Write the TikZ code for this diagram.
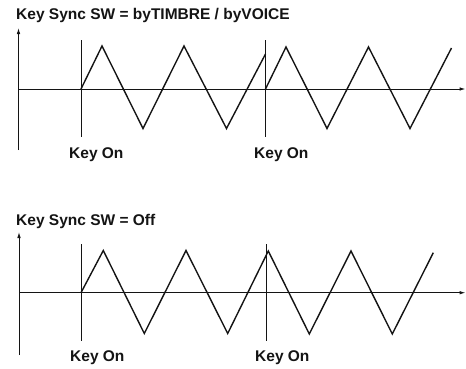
\documentclass[tikz,border=0pt]{standalone}
\usepackage{fontspec}
\setmainfont{Liberation Sans}
\usepackage{xcolor}
\definecolor{plotInk}{RGB}{20, 20, 20}
\usetikzlibrary{arrows.meta}

\begin{document}
\begin{tikzpicture}[
    x=1pt, y=-1pt,
    titleNode/.style={
        anchor=base west, inner sep=0pt, text=plotInk,
        font=\bfseries\fontsize{15.5}{18}\selectfont
    },
    keyLabel/.style={
        anchor=base west, inner sep=0pt, text=plotInk,
        font=\bfseries\fontsize{15.5}{18}\selectfont
    },
    axisArrow/.style={
        -{Latex[length=6pt, width=3.6pt]}, line width=1pt, draw=plotInk
    },
    keyLine/.style={
        line width=1pt, draw=plotInk
    },
    waveLine/.style={
        line width=1.4pt, draw=plotInk, line join=miter
    }
]
    \useasboundingbox (0,0) rectangle (466,368);

    % Upper panel: sync switched on
    \node[titleNode] (titleSync) at (16,19) {Key Sync SW = byTIMBRE / byVOICE};

    \coordinate (axisAy0) at (18.5,150);
    \coordinate (axisAy1) at (18.5,28);
    \coordinate (axisAx0) at (18.5,89);
    \coordinate (axisAx1) at (465.5,89);
    \draw[axisArrow] (axisAy0) -- (axisAy1);
    \draw[axisArrow] (axisAx0) -- (axisAx1);

    \coordinate (onA1top) at (81,40);
    \coordinate (onA1bot) at (81,137);
    \coordinate (onA2top) at (265.5,40);
    \coordinate (onA2bot) at (265.5,137);
    \draw[keyLine] (onA1top) -- (onA1bot);
    \draw[keyLine] (onA2top) -- (onA2bot);

    \node[keyLabel] (keyOnA1) at (69,158) {Key On};
    \node[keyLabel] (keyOnA2) at (254,158) {Key On};

    % wave restarts at each key on
    \draw[waveLine] (81,89) -- (102,46) -- (143,128.5) -- (184,46)
        -- (226.5,128.5) -- (265.5,54);
    \draw[waveLine] (265.5,89) -- (286,47) -- (327,128.5) -- (368.5,47)
        -- (410,128.5) -- (451.5,48);

    % Lower panel: sync switched off
    \node[titleNode] (titleOff) at (16,225.5) {Key Sync SW = Off};

    \coordinate (axisBy0) at (19,355);
    \coordinate (axisBy1) at (19,232);
    \coordinate (axisBx0) at (19,292.7);
    \coordinate (axisBx1) at (465.5,292.7);
    \draw[axisArrow] (axisBy0) -- (axisBy1);
    \draw[axisArrow] (axisBx0) -- (axisBx1);

    \coordinate (onB1top) at (81,244);
    \coordinate (onB1bot) at (81,341);
    \coordinate (onB2top) at (266.5,244);
    \coordinate (onB2bot) at (266.5,341);
    \draw[keyLine] (onB1top) -- (onB1bot);
    \draw[keyLine] (onB2top) -- (onB2bot);

    \node[keyLabel] (keyOnB1) at (70,361) {Key On};
    \node[keyLabel] (keyOnB2) at (255,361) {Key On};

    % free running wave
    \draw[waveLine] (81,292.7) -- (103.3,250.5) -- (144.3,333.5) -- (186,250.5)
        -- (227.7,333.5) -- (268.3,251) -- (309.3,334) -- (351,251)
        -- (392.3,334) -- (433.3,252.7);

\end{tikzpicture}
\end{document}
